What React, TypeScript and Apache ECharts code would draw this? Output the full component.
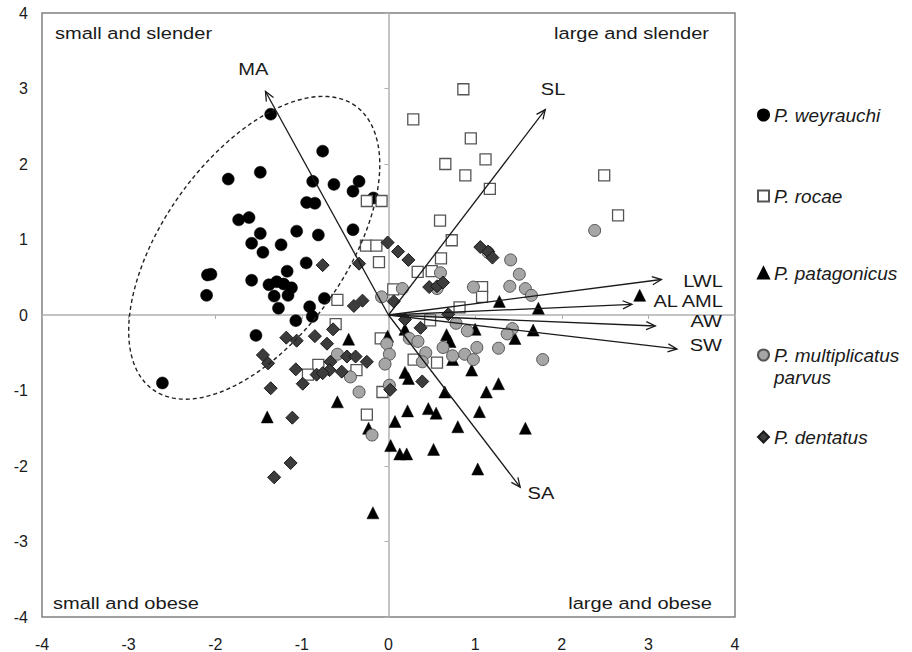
import React, { useEffect, useRef } from "react";
import * as echarts from "echarts";

// ---------- data ----------
const weyrauchi: number[][] = [
  [-1.36, 2.66], [-0.76, 2.17], [-1.85, 1.8], [-1.48, 1.89], [-0.875, 1.77], [-0.63, 1.73],
  [-0.34, 1.77], [-0.41, 1.64], [-0.175, 1.55], [-0.945, 1.49], [-0.85, 1.48], [-1.73, 1.26],
  [-1.61, 1.29], [-1.48, 1.08], [-1.06, 1.11], [-0.81, 1.06], [-0.41, 1.13], [-1.58, 0.95],
  [-1.24, 0.93], [-1.45, 0.83], [-0.95, 0.69], [-1.17, 0.58], [-2.09, 0.53], [-2.05, 0.54],
  [-1.58, 0.46], [-2.1, 0.26], [-1.38, 0.4], [-1.29, 0.44], [-1.21, 0.41], [-1.12, 0.36],
  [-1.16, 0.26], [-1.32, 0.25], [-1.27, 0.09], [-0.91, 0.11], [-0.74, 0.22], [-1.07, -0.075],
  [-0.88, -0.02], [-1.53, -0.27], [-2.61, -0.9],
];
const rocae: number[][] = [
  [0.864, 2.99], [0.286, 2.59], [0.95, 2.34], [1.12, 2.06], [0.656, 2.0], [0.887, 1.85],
  [1.17, 1.67], [2.49, 1.85], [2.65, 1.32], [-0.25, 1.51], [-0.08, 1.51], [0.595, 1.25],
  [0.73, 0.99], [0.606, 0.75], [0.337, 0.57], [0.499, 0.58], [-0.11, 0.7], [1.08, 0.37],
  [1.08, 0.24], [0.055, 0.34], [0.82, 0.1], [-0.26, 0.92], [-0.14, 0.92], [-0.59, 0.2],
  [-0.61, -0.12], [-0.09, -0.31], [-0.81, -0.66], [-0.93, -0.79], [-0.37, -0.73], [-0.25, -1.32],
  [-0.07, -1.02], [0.48, -0.07], [0.29, -0.59], [0.56, -0.63],
];
const patagonicus: number[][] = [
  [-0.46, -0.32], [-0.59, -1.15], [-1.4, -1.35], [-0.01, -0.28], [0.075, -1.41], [0.025, -1.73],
  [-0.23, -1.5], [0.13, -1.84], [1.73, 0.09], [1.28, 0.18], [1.67, -0.2], [1.46, -0.31],
  [1.0, -0.19], [0.67, -0.26], [0.71, -0.35], [0.19, -0.19], [0.74, -0.59], [0.96, -0.73],
  [0.19, -0.76], [0.23, -0.84], [0.65, -1.02], [1.13, -1.02], [1.27, -0.91], [0.22, -1.27],
  [0.46, -1.24], [0.55, -1.3], [1.05, -1.28], [0.8, -1.48], [1.58, -1.5], [0.21, -1.84],
  [0.52, -1.78], [1.03, -2.04], [2.9, 0.26], [-0.18, -2.62],
];
const multiplicatus: number[][] = [
  [2.38, 1.12], [1.41, 0.73], [1.51, 0.54], [1.4, 0.38], [1.58, 0.35], [1.65, 0.26],
  [1.15, 0.83], [0.98, 0.37], [0.6, 0.56], [0.56, 0.35], [0.16, 0.35], [-0.08, 0.24],
  [0.78, -0.11], [0.91, -0.21], [1.43, -0.18], [1.37, -0.25], [0.24, -0.31], [0.34, -0.35],
  [0.63, -0.43], [1.02, -0.43], [1.27, -0.44], [0.43, -0.5], [0.74, -0.54], [0.88, -0.52],
  [0.98, -0.59], [1.78, -0.59], [-0.02, -0.38], [0.01, -0.52], [-0.04, -0.65], [0.39, -0.62],
  [0.01, -0.93], [-0.59, -0.52], [-0.44, -0.82], [-0.34, -1.02], [-0.19, -1.59],
];
const dentatus: number[][] = [
  [-0.01, 0.96], [0.11, 0.84], [-0.76, 0.66], [-0.34, 0.68], [-0.4, 0.12], [-0.3, 0.19],
  [0.06, 0.18], [0.23, 0.73], [0.47, 0.37], [0.56, 0.38], [0.63, 0.43], [1.06, 0.9],
  [1.15, 0.84], [1.2, 0.76], [0.19, -0.06], [0.37, -0.17], [-0.64, -0.19], [-0.85, -0.28],
  [-0.71, -0.38], [-0.48, -0.55], [-0.38, -0.55], [-0.25, -0.62], [-0.67, -0.62], [0.69, 0.01],
  [-1.18, -0.3], [-1.06, -0.34], [-1.45, -0.53], [-1.39, -0.64], [-1.07, -0.72], [-0.99, -0.91],
  [-1.36, -0.97], [-0.68, -0.73], [-0.83, -0.79], [-0.76, -0.77], [-0.54, -0.75], [-1.11, -1.36],
  [-1.13, -1.96], [-1.32, -2.15], [0.02, -0.99], [0.39, -0.88],
];

const seriesNames = [
  "P. weyrauchi",
  "P. rocae",
  "P. patagonicus",
  "P. multiplicatus parvus",
  "P. dentatus",
];

// biplot loadings (arrow tips)
const loadingNames = ["MA", "SL", "LWL", "AL AML", "AW", "SW", "SA"];
const loadingX = [-1.42, 1.81, 3.15, 2.81, 3.08, 3.33, 1.52];
const loadingY = [2.96, 2.72, 0.47, 0.14, -0.146, -0.45, -2.28];

const quadrantLabels = ["small and slender", "large and slender", "small and obese", "large and obese"];

// axis range
const AXIS_MIN = -4;
const AXIS_MAX = 4;
const AXIS_STEP = 1;

// ---------- layout / style ----------
const FONT = "'Liberation Sans', Arial, Helvetica, sans-serif";
const STRETCH = 1.18;
// label anchors in data units: [x, y, align]
const LABEL_ANCHOR: [number, number, string][] = [
  [-1.56, 3.26, "center"],
  [1.9, 2.99, "center"],
  [3.86, 0.45, "right"],
  [3.86, 0.185, "right"],
  [3.85, -0.08, "right"],
  [3.85, -0.4, "right"],
  [1.76, -2.36, "center"],
];
// confidence ellipse: centre and conjugate semi-diameters (data units)
const ELLIPSE_C = [-1.55, 0.89];
const ELLIPSE_U = [1.169, 1.879];
const ELLIPSE_V = [-0.857, 0.701];

const GRID = { left: 42, top: 13, right: 177, bottom: 35 };

export default function App() {
  const ref = useRef<HTMLDivElement>(null);

  useEffect(() => {
    if (!ref.current) return;
    const chart = echarts.init(ref.current, undefined, { renderer: "svg" });

    const scatterBase = { type: "scatter", xAxisIndex: 0, yAxisIndex: 0, z: 3 };

    const arrowSeries = {
      type: "custom",
      name: "loadings",
      xAxisIndex: 0,
      yAxisIndex: 0,
      silent: true,
      clip: false,
      z: 5,
      data: loadingX.map((x, i) => [x, loadingY[i]]),
      renderItem: (params: any, api: any) => {
        const i = params.dataIndex;
        const o = api.coord([0, 0]);
        const t = api.coord([api.value(0), api.value(1)]);
        const ang = Math.atan2(t[1] - o[1], t[0] - o[0]);
        const L = 10;
        const w = 0.42;
        const p1 = [t[0] - L * Math.cos(ang - w), t[1] - L * Math.sin(ang - w)];
        const p2 = [t[0] - L * Math.cos(ang + w), t[1] - L * Math.sin(ang + w)];
        const a = LABEL_ANCHOR[i];
        const lp = api.coord([a[0], a[1]]);
        return {
          type: "group",
          children: [
            {
              type: "line",
              shape: { x1: o[0], y1: o[1], x2: t[0], y2: t[1] },
              style: { stroke: "#1a1a1a", lineWidth: 1.3 },
            },
            {
              type: "polyline",
              shape: { points: [p1, t, p2] },
              style: { stroke: "#1a1a1a", lineWidth: 1.3, fill: null },
            },
            {
              type: "text",
              x: lp[0],
              y: lp[1],
              scaleX: STRETCH,
              style: {
                text: loadingNames[i],
                fontSize: 17,
                fontFamily: FONT,
                fill: "#1a1a1a",
                align: a[2],
                verticalAlign: "middle",
              },
            },
          ],
        };
      },
    };

    const ellipseSeries = {
      type: "custom",
      name: "ellipse",
      xAxisIndex: 0,
      yAxisIndex: 0,
      silent: true,
      z: 4,
      data: [ELLIPSE_C],
      renderItem: (_params: any, api: any) => {
        const pts: number[][] = [];
        const n = 160;
        for (let k = 0; k <= n; k++) {
          const t = (k / n) * Math.PI * 2;
          pts.push(
            api.coord([
              ELLIPSE_C[0] + ELLIPSE_U[0] * Math.cos(t) + ELLIPSE_V[0] * Math.sin(t),
              ELLIPSE_C[1] + ELLIPSE_U[1] * Math.cos(t) + ELLIPSE_V[1] * Math.sin(t),
            ])
          );
        }
        return {
          type: "polyline",
          shape: { points: pts },
          style: { stroke: "#222", lineWidth: 1.4, lineDash: [4, 3], fill: null },
        };
      },
    };

    const legendTops = [104, 185, 262, 322, 426];
    const legends = seriesNames.map((name, i) => ({
      data: [name],
      orient: "vertical",
      left: 757,
      top: legendTops[i],
      padding: 0,
      itemWidth: 11,
      itemHeight: 11,
      itemGap: 0,
      selectedMode: false,
      formatter: (n: string) => (n === "P. multiplicatus parvus" ? " \nP. multiplicatus\nparvus" : n),
      textStyle: {
        fontSize: 19,
        fontStyle: "italic",
        fontFamily: FONT,
        color: "#1a1a1a",
        lineHeight: 22,
      },
    }));

    const axisCommon = {
      type: "value",
      min: AXIS_MIN,
      max: AXIS_MAX,
      interval: AXIS_STEP,
      splitLine: { show: false },
    };

    const option: any = {
      animation: false,
      backgroundColor: "#fff",
      grid: {
        ...GRID,
        show: true,
        borderColor: "#808080",
        borderWidth: 1.5,
        backgroundColor: "transparent",
      },
      legend: legends,
      xAxis: [
        {
          ...axisCommon,
          position: "bottom",
          axisLine: { show: false, onZero: false },
          axisTick: { show: false },
          axisLabel: { fontSize: 16, fontFamily: FONT, color: "#1a1a1a", margin: 19 },
        },
        {
          ...axisCommon,
          position: "bottom",
          axisLine: { show: true, onZero: true, lineStyle: { color: "#b0b0b0", width: 1.5 } },
          axisTick: { show: true, length: 4, lineStyle: { color: "#b0b0b0", width: 1 } },
          axisLabel: { show: false },
        },
      ],
      yAxis: [
        {
          ...axisCommon,
          position: "left",
          axisLine: { show: false, onZero: false },
          axisTick: { show: false },
          axisLabel: { fontSize: 16, fontFamily: FONT, color: "#1a1a1a", margin: 14 },
        },
        {
          ...axisCommon,
          position: "left",
          axisLine: { show: true, onZero: true, lineStyle: { color: "#b0b0b0", width: 1.5 } },
          axisTick: { show: true, length: 4, lineStyle: { color: "#b0b0b0", width: 1 } },
          axisLabel: { show: false },
        },
      ],
      graphic: [
        { type: "text", x: 55, y: 33, scaleX: STRETCH, style: { text: quadrantLabels[0], fontSize: 17, fontFamily: FONT, fill: "#1a1a1a", align: "left", verticalAlign: "middle" } },
        { type: "text", x: 709, y: 33, scaleX: STRETCH, style: { text: quadrantLabels[1], fontSize: 17, fontFamily: FONT, fill: "#1a1a1a", align: "right", verticalAlign: "middle" } },
        { type: "text", x: 53, y: 603, scaleX: STRETCH, style: { text: quadrantLabels[2], fontSize: 17, fontFamily: FONT, fill: "#1a1a1a", align: "left", verticalAlign: "middle" } },
        { type: "text", x: 712, y: 603, scaleX: STRETCH, style: { text: quadrantLabels[3], fontSize: 17, fontFamily: FONT, fill: "#1a1a1a", align: "right", verticalAlign: "middle" } },
      ],
      series: [
        { ...scatterBase, name: seriesNames[0], data: weyrauchi, symbol: "circle", symbolSize: 12, itemStyle: { color: "#000", borderColor: "#000", borderWidth: 0.5, opacity: 1 } },
        { ...scatterBase, name: seriesNames[1], data: rocae, symbol: "rect", symbolSize: 11, itemStyle: { color: "#fff", borderColor: "#555", borderWidth: 1.3, opacity: 1 } },
        { ...scatterBase, name: seriesNames[2], data: patagonicus, symbol: "triangle", symbolSize: 12, itemStyle: { color: "#000", borderColor: "#000", borderWidth: 0.5, opacity: 1 } },
        { ...scatterBase, name: seriesNames[3], data: multiplicatus, symbol: "circle", symbolSize: 12, itemStyle: { color: "#a6a6a6", borderColor: "#555", borderWidth: 1, opacity: 1 } },
        { ...scatterBase, name: seriesNames[4], data: dentatus, symbol: "diamond", symbolSize: 13, itemStyle: { color: "#3c3c3c", borderColor: "#1a1a1a", borderWidth: 1, opacity: 1 } },
        ellipseSeries,
        arrowSeries,
      ],
    };

    chart.setOption(option);
    return () => chart.dispose();
  }, []);

  return (
    <div
      ref={ref}
      style={{ position: "fixed", left: 0, top: 0, width: 912, height: 652, background: "#fff" }}
    />
  );
}
